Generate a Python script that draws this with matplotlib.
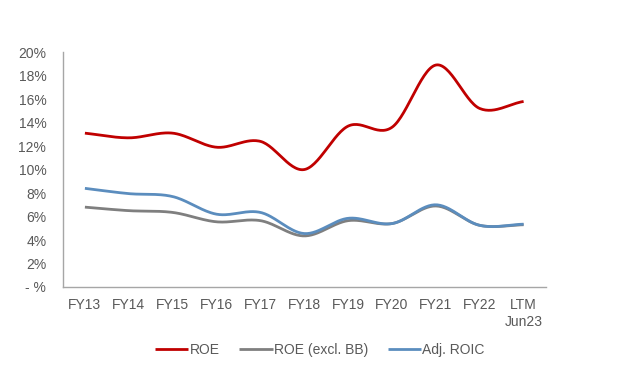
import numpy as np
import matplotlib
matplotlib.use("Agg")
import matplotlib.pyplot as plt
from matplotlib.ticker import FuncFormatter

plt.rcParams["font.family"] = ["Liberation Sans", "DejaVu Sans"]

categories = ["FY13", "FY14", "FY15", "FY16", "FY17", "FY18", "FY19", "FY20", "FY21", "FY22", "LTM\nJun23"]
roe = [13.1, 12.7, 13.1, 11.9, 12.4, 10.0, 13.7, 13.6, 18.9, 15.2, 15.8]
roe_excl_bb = [6.8, 6.5, 6.35, 5.55, 5.65, 4.35, 5.65, 5.4, 6.9, 5.25, 5.3]
adj_roic = [8.4, 7.95, 7.7, 6.2, 6.35, 4.55, 5.85, 5.4, 7.0, 5.25, 5.35]


def smooth(y, n=30):
    # Catmull-Rom style curve, similar to Excel "smoothed line"
    x = np.arange(len(y), dtype=float)
    y = np.asarray(y, dtype=float)
    px = np.concatenate([[2 * x[0] - x[1]], x, [2 * x[-1] - x[-2]]])
    py = np.concatenate([[2 * y[0] - y[1]], y, [2 * y[-1] - y[-2]]])
    xs, ys = [], []
    t = np.linspace(0, 1, n, endpoint=False)
    for i in range(1, len(px) - 2):
        p0, p1, p2, p3 = py[i - 1], py[i], py[i + 1], py[i + 2]
        q0, q1, q2, q3 = px[i - 1], px[i], px[i + 1], px[i + 2]
        for arr, a0, a1, a2, a3 in ((xs, q0, q1, q2, q3), (ys, p0, p1, p2, p3)):
            arr.extend(0.5 * (2 * a1 + (-a0 + a2) * t + (2 * a0 - 5 * a1 + 4 * a2 - a3) * t ** 2
                              + (-a0 + 3 * a1 - 3 * a2 + a3) * t ** 3))
    xs.append(x[-1])
    ys.append(y[-1])
    return np.array(xs), np.array(ys)


fig = plt.figure(figsize=(6.4, 3.67), dpi=100)
ax = fig.add_axes([0.0984, 0.218, 0.754, 0.64])

series = [
    (roe, "#C00000", "ROE"),
    (roe_excl_bb, "#7F7F7F", "ROE (excl. BB)"),
    (adj_roic, "#5B8DBE", "Adj. ROIC"),
]
for vals, color, label in series:
    sx, sy = smooth(vals)
    ax.plot(sx, sy, color=color, linewidth=2.0, label=label, solid_capstyle="butt")

ax.set_xlim(-0.5, len(categories) - 0.5)
ax.set_ylim(0, 20)
ax.set_yticks(np.arange(0, 21, 2))
ax.yaxis.set_major_formatter(FuncFormatter(lambda v, _: "- %" if v == 0 else f"{v:.0f}%"))
ax.set_xticks(range(len(categories)))
ax.set_xticklabels(categories, linespacing=1.25)

for side in ("top", "right"):
    ax.spines[side].set_visible(False)
for side in ("left", "bottom"):
    ax.spines[side].set_color("#A6A6A6")
    ax.spines[side].set_linewidth(1.0)
ax.tick_params(axis="y", length=0, pad=12, labelsize=10, labelcolor="#595959")
ax.tick_params(axis="x", length=0, pad=8, labelsize=10, labelcolor="#595959")

fig.legend(loc="center", bbox_to_anchor=(0.5, 0.046), ncol=3, frameon=False,
           fontsize=10, handlelength=2.4, handletextpad=0.1, columnspacing=1.4,
           labelcolor="#595959")

fig.savefig("out.png", dpi=100)
